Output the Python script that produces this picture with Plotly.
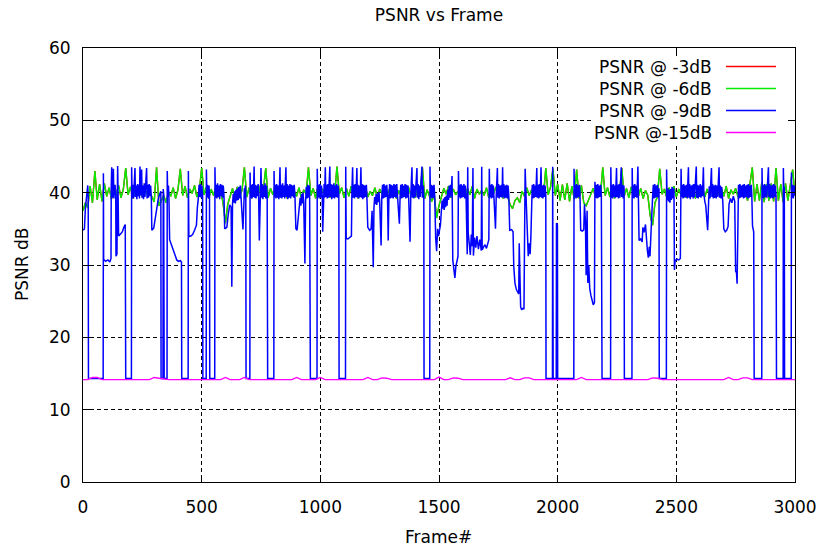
import plotly.graph_objects as go

# ---------------- data ----------------
frames_10 = list(range(0, 3001, 10))          # frame index of the -6dB / -3dB samples
frames_20 = list(range(0, 3001, 20))          # frame index of the -15dB samples

psnr_6db = [
    37.5, 38.6, 37.9, 40.9, 38.6, 43.0, 39.0, 41.2, 38.8, 41.3,
    39.5, 40.7, 39.1, 40.4, 39.8, 41.0, 39.3, 40.5, 43.4, 39.7,
    40.8, 39.2, 40.3, 39.6, 41.1, 39.4, 40.6, 39.8, 40.2, 39.3,
    38.7, 43.5, 38.2, 38.9, 39.6, 38.6, 40.1, 39.5, 40.7, 39.2,
    40.4, 43.3, 39.6, 40.9, 39.3, 40.5, 39.9, 41.0, 39.4, 40.3,
    43.4, 39.7, 40.8, 39.2, 40.5, 39.6, 40.9, 39.4, 40.2, 38.6,
    35.8, 38.4, 39.5, 40.6, 39.3, 40.8, 39.6, 40.3, 43.5, 39.4,
    40.7, 39.2, 40.5, 39.8, 41.0, 39.5, 40.4, 43.4, 39.3, 40.6,
    39.7, 40.9, 39.4, 40.3, 39.6, 40.8, 39.2, 40.5, 39.9, 40.2,
    39.5, 40.7, 39.3, 40.4, 39.8, 43.5, 39.6, 40.6, 39.2, 40.9,
    39.4, 40.5, 39.7, 40.8, 39.3, 40.4, 39.6, 43.6, 39.8, 40.7,
    39.3, 40.6, 39.5, 40.9, 39.7, 40.3, 39.2, 40.5, 39.8, 40.8,
    39.4, 40.2, 39.6, 40.7, 39.3, 40.5, 39.9, 40.9, 39.5, 40.4,
    39.7, 40.8, 39.2, 40.3, 39.6, 40.6, 39.4, 40.9, 39.8, 40.5,
    39.3, 40.7, 39.6, 43.5, 39.2, 40.4, 39.5, 38.8, 39.7, 36.5,
    38.2, 39.4, 40.6, 39.8, 40.9, 39.3, 40.5, 39.7, 40.2, 39.5,
    40.8, 39.4, 40.6, 39.7, 40.9, 39.2, 40.5, 39.8, 40.3, 39.6,
    40.7, 39.3, 40.4, 39.9, 40.8, 39.5, 40.6, 39.2, 40.1, 39.4,
    38.3, 37.8, 38.9, 39.3, 38.6, 40.2, 39.5, 40.7, 39.6, 40.4,
    39.8, 40.9, 39.3, 40.6, 39.5, 43.4, 39.7, 40.8, 43.3, 39.6,
    41.2, 38.9, 41.1, 39.0, 41.3, 38.8, 40.9, 39.1, 43.2, 39.2,
    41.0, 38.6, 38.2, 39.0, 39.8, 40.6, 39.3, 40.8, 39.5, 43.5,
    39.6, 40.7, 39.4, 40.9, 39.2, 40.5, 39.8, 43.4, 39.5, 40.6,
    39.3, 40.8, 39.7, 40.4, 39.5, 40.6, 39.2, 40.3, 39.6, 36.8,
    35.5, 38.6, 39.4, 43.3, 39.8, 40.5, 39.3, 40.7, 39.6, 40.9,
    39.4, 40.5, 39.7, 40.8, 39.3, 40.6, 39.5, 40.9, 39.2, 40.4,
    39.8, 40.7, 39.4, 40.5, 39.6, 40.8, 39.3, 40.3, 39.7, 40.6,
    39.5, 40.9, 39.2, 40.4, 39.8, 40.6, 39.4, 40.7, 39.6, 40.3,
    38.9, 41.3, 43.5, 38.8, 41.2, 38.9, 41.4, 38.7, 41.2, 38.9,
    41.3, 38.8, 43.4, 38.9, 41.2, 38.7, 41.3, 38.9, 41.1, 43.2,
    39.6,
]

# the -3dB curve is completely hidden under the -6dB curve in the reference
psnr_3db = list(psnr_6db)

# (frame, PSNR) pairs of the -9dB curve
psnr_9db = [
    (0, 34.8), (6, 35.0), (10, 37.8), (14, 39.2), (20, 41.0), (22, 39.3), (23, 14.3), (85, 14.3),
    (86, 42.7), (87, 30.8), (95, 30.5), (105, 30.7), (113, 30.4), (118, 30.9), (119, 40.9), (121, 43.5),
    (123, 39.3), (127, 40.9), (128, 43.3), (130, 39.2), (135, 41.1), (138, 39.6), (139, 31.2), (143, 31.5),
    (145, 40.8), (146, 43.7), (148, 39.4), (150, 34.0), (158, 34.3), (166, 34.6), (172, 35.2), (178, 35.6),
    (180, 14.3), (204, 14.3),
    (205, 43.5), (207, 39.3), (210, 41.1), (213, 39.2), (216, 41.3), (219, 43.4), (221, 39.4), (224, 41.0),
    (227, 39.1), (230, 41.2), (233, 39.5), (236, 41.1), (238, 39.2), (240, 43.6), (242, 39.6), (244, 41.2),
    (247, 43.2), (249, 39.3), (252, 41.0), (255, 39.1), (258, 41.3), (261, 39.4), (264, 40.9), (268, 43.4),
    (270, 39.2), (273, 41.1), (276, 39.3), (279, 41.2), (282, 39.5), (285, 41.0), (288, 39.2),
    (290, 34.8), (298, 35.1), (304, 36.5), (310, 37.8), (316, 38.9), (322, 39.7), (328, 40.2), (329, 14.3),
    (337, 14.3), (338, 40.5), (340, 39.8), (342, 14.3), (354, 14.3), (355, 43.0), (357, 39.4), (360, 41.0),
    (362, 39.5), (365, 33.5), (372, 32.8), (380, 32.0), (388, 31.3), (395, 30.7), (402, 30.5), (410, 30.6),
    (415, 30.4), (416, 14.3), (443, 14.3),
    (444, 43.0), (446, 33.9), (454, 34.0), (462, 34.2), (470, 34.8), (478, 35.5), (482, 38.0), (486, 39.2),
    (489, 41.1), (492, 39.4), (495, 41.2), (498, 39.3), (501, 41.0), (504, 39.6), (505, 14.3), (519, 14.3),
    (520, 43.2), (522, 39.4), (525, 41.1), (528, 39.2), (531, 41.0), (533, 39.5), (534, 14.3), (555, 14.3),
    (556, 43.5), (558, 39.3), (561, 41.1), (564, 39.2), (567, 41.3), (570, 39.4), (573, 41.0), (576, 39.1),
    (579, 41.2), (582, 39.5), (585, 41.1), (588, 39.3), (591, 41.0), (594, 39.6), (597, 35.0), (606, 35.2),
    (612, 37.0), (618, 38.3), (624, 38.0), (627, 27.0), (630, 38.4), (633, 39.8), (636, 38.6), (639, 40.2),
    (642, 38.5), (645, 40.4), (648, 38.9), (651, 40.6), (654, 39.0), (657, 40.8), (660, 39.2), (663, 41.0),
    (666, 39.3), (670, 36.2), (674, 34.9), (678, 38.5), (680, 40.6), (682, 39.2), (684, 41.0), (686, 39.5),
    (687, 14.3), (703, 14.3),
    (704, 42.8), (706, 39.3), (709, 41.1), (712, 39.2), (715, 41.2), (718, 39.4), (721, 43.6), (723, 39.3),
    (726, 41.1), (729, 39.2), (732, 41.0), (735, 39.5), (738, 41.2), (740, 39.6), (743, 33.4), (746, 39.9),
    (748, 41.1), (750, 43.4), (752, 39.3), (755, 41.2), (758, 39.1), (761, 41.0), (764, 39.4), (767, 41.3),
    (770, 39.2), (773, 41.0), (776, 39.5), (778, 14.3), (804, 14.3),
    (805, 43.0), (807, 39.4), (810, 41.1), (813, 39.2), (816, 41.2), (819, 39.3), (822, 41.0), (825, 39.1),
    (828, 41.2), (830, 43.5), (832, 39.3), (835, 41.1), (838, 39.2), (841, 41.3), (844, 39.4), (847, 41.0),
    (850, 39.2), (853, 41.1), (855, 43.5), (857, 39.4), (860, 41.2), (863, 39.1), (866, 41.0), (869, 39.3),
    (872, 41.2), (875, 39.2), (878, 41.1), (881, 39.5), (884, 41.0), (887, 39.3), (890, 41.1), (893, 39.6),
    (897, 35.0), (902, 34.8), (906, 36.5), (912, 38.0), (915, 39.3), (918, 38.2), (921, 39.8), (924, 38.5),
    (927, 40.0), (930, 38.6), (935, 30.2), (938, 38.9), (941, 40.8), (944, 39.2), (947, 41.1), (950, 39.3),
    (953, 41.0), (955, 39.5), (958, 14.3), (986, 14.3),
    (987, 43.3), (989, 39.4), (992, 41.1), (995, 39.2), (998, 41.2), (1002, 39.3), (1005, 41.0), (1008, 39.5),
    (1010, 34.6), (1013, 39.4), (1016, 41.2), (1018, 39.3), (1021, 43.5), (1023, 39.4), (1026, 41.1), (1029, 39.2),
    (1032, 41.2), (1035, 39.3), (1038, 41.0), (1040, 43.6), (1042, 39.4), (1045, 41.2), (1048, 39.1), (1051, 41.1),
    (1054, 39.3), (1057, 41.3), (1060, 39.2), (1063, 41.0), (1066, 39.4), (1069, 41.2), (1072, 39.3), (1075, 41.0),
    (1078, 39.6), (1079, 14.3), (1106, 14.3),
    (1107, 43.6), (1109, 33.7), (1116, 33.6), (1124, 33.8), (1131, 34.0), (1133, 40.2), (1136, 43.5), (1138, 39.3),
    (1141, 41.1), (1144, 39.2), (1147, 41.2), (1150, 39.4), (1154, 43.4), (1156, 39.3), (1159, 41.1), (1162, 39.2),
    (1165, 41.0), (1168, 39.4), (1171, 43.5), (1173, 39.3), (1176, 41.2), (1179, 39.1), (1182, 41.1), (1185, 39.3),
    (1188, 41.0), (1191, 39.4), (1194, 41.1), (1196, 39.6), (1200, 35.2), (1208, 34.8), (1214, 35.0), (1218, 37.5),
    (1223, 29.7), (1226, 38.0), (1229, 39.4), (1232, 38.4), (1235, 39.8), (1238, 38.3), (1241, 39.9), (1244, 38.7),
    (1247, 40.1), (1250, 38.8), (1256, 32.7), (1259, 39.4), (1262, 41.1), (1265, 39.2), (1268, 41.2), (1271, 39.3),
    (1274, 41.0), (1277, 39.4), (1280, 41.1), (1283, 39.5), (1286, 33.4), (1289, 39.4), (1292, 41.2), (1295, 39.2),
    (1298, 41.1), (1301, 39.3), (1304, 41.0), (1307, 39.2), (1310, 41.2), (1313, 39.4), (1316, 41.1), (1319, 39.3),
    (1322, 41.2), (1325, 39.6), (1333, 35.7), (1336, 39.4), (1339, 41.1), (1342, 39.2), (1345, 41.2), (1348, 39.3),
    (1351, 41.0), (1354, 39.4), (1357, 41.2), (1360, 39.2), (1363, 41.1), (1366, 39.3), (1369, 41.0), (1372, 39.5),
    (1378, 33.2), (1381, 39.4), (1384, 41.1), (1386, 43.5), (1388, 39.3), (1391, 41.2), (1394, 39.2), (1397, 41.0),
    (1400, 39.4), (1403, 41.1), (1407, 43.4), (1409, 39.3), (1412, 41.2), (1415, 39.1), (1418, 41.0), (1421, 39.4),
    (1424, 41.1), (1428, 43.6), (1430, 39.3), (1433, 41.0), (1436, 39.5), (1437, 14.3), (1461, 14.3),
    (1462, 43.6), (1464, 39.4), (1467, 41.1), (1470, 39.2), (1473, 41.0), (1476, 39.3), (1479, 41.1), (1482, 39.5),
    (1486, 33.7), (1490, 31.9), (1494, 35.0), (1498, 34.0), (1502, 34.8), (1506, 35.5), (1510, 37.5), (1513, 38.9),
    (1516, 37.8), (1519, 39.2), (1522, 37.6), (1525, 39.4), (1528, 38.0), (1531, 39.6), (1534, 38.2), (1537, 40.4),
    (1540, 39.0), (1543, 41.0), (1546, 39.3), (1549, 41.1), (1551, 39.5), (1555, 42.3), (1558, 30.7), (1563, 29.5),
    (1567, 28.2), (1571, 29.8), (1576, 31.0), (1580, 31.2), (1582, 43.0), (1584, 39.4), (1587, 41.1), (1590, 39.2),
    (1593, 41.2), (1596, 39.3), (1599, 41.0), (1602, 39.4), (1605, 41.2), (1608, 39.2), (1611, 41.0), (1614, 39.5),
    (1619, 31.5), (1621, 43.5), (1623, 34.5), (1628, 33.0), (1632, 31.4), (1636, 34.2), (1640, 32.6), (1643, 43.4),
    (1645, 31.3), (1650, 33.8), (1655, 32.4), (1660, 34.0), (1666, 32.2), (1672, 33.5), (1678, 32.0), (1680, 43.6),
    (1682, 32.1), (1688, 32.5), (1694, 32.8), (1700, 32.3), (1706, 32.9), (1710, 33.5), (1712, 43.3), (1714, 39.4),
    (1717, 41.1), (1720, 39.2), (1723, 41.2), (1726, 39.3), (1729, 41.0), (1732, 39.5), (1738, 35.0), (1741, 39.4),
    (1744, 41.1), (1746, 43.4), (1748, 39.3), (1751, 41.2), (1754, 39.2), (1757, 41.0), (1760, 39.4), (1763, 41.1),
    (1766, 39.3), (1768, 43.5), (1770, 39.4), (1773, 41.2), (1776, 39.2), (1779, 41.0), (1782, 39.3), (1785, 41.1),
    (1788, 39.2), (1791, 41.0), (1794, 39.6), (1798, 34.8), (1806, 34.9), (1812, 34.6), (1815, 29.8), (1820, 27.5),
    (1826, 26.6), (1832, 26.2), (1836, 26.0), (1838, 33.0), (1841, 26.5), (1844, 24.2), (1848, 23.8), (1853, 24.0),
    (1858, 23.9), (1860, 39.8), (1863, 43.3), (1866, 40.2), (1870, 36.0), (1872, 32.6), (1876, 31.2), (1880, 33.0),
    (1884, 31.5), (1887, 33.8), (1890, 39.4), (1893, 41.1), (1896, 39.2), (1899, 41.2), (1902, 39.3), (1905, 41.0),
    (1908, 39.4), (1912, 43.4), (1914, 39.3), (1917, 41.1), (1920, 39.2), (1923, 41.2), (1926, 39.4), (1930, 43.5),
    (1932, 39.3), (1935, 41.0), (1938, 39.2), (1941, 41.1), (1944, 39.4), (1947, 41.0), (1950, 39.6), (1951, 14.3),
    (1978, 14.3), (1979, 43.6), (1981, 14.3), (1994, 14.3), (1995, 35.8), (1999, 35.5), (2000, 14.3), (2068, 14.3),
    (2069, 43.3), (2071, 39.4), (2074, 41.1), (2077, 39.2), (2080, 41.2), (2083, 39.3), (2086, 41.0), (2089, 39.4),
    (2092, 41.1), (2094, 39.6), (2097, 34.8), (2104, 34.7), (2110, 34.9), (2113, 38.4), (2117, 36.0), (2120, 28.6),
    (2124, 37.5), (2127, 27.5), (2131, 30.0), (2135, 26.8), (2140, 25.8), (2145, 25.2), (2150, 24.5), (2155, 24.8),
    (2157, 41.5), (2160, 39.3), (2163, 41.1), (2166, 39.2), (2169, 41.2), (2172, 39.3), (2175, 41.0), (2178, 39.4),
    (2181, 41.1), (2184, 39.6), (2187, 14.3), (2223, 14.3),
    (2224, 43.5), (2226, 39.3), (2229, 41.1), (2232, 39.2), (2235, 41.2), (2238, 39.4), (2241, 41.0), (2244, 39.3),
    (2248, 43.4), (2250, 39.4), (2253, 41.1), (2256, 39.2), (2259, 41.2), (2262, 39.3), (2265, 41.0), (2268, 43.5),
    (2270, 39.4), (2273, 41.1), (2276, 39.2), (2279, 41.0), (2280, 39.6), (2281, 14.3), (2313, 14.3),
    (2314, 43.4), (2316, 39.3), (2319, 41.1), (2322, 39.2), (2325, 41.2), (2328, 39.4), (2331, 41.0), (2334, 39.3),
    (2338, 43.6), (2340, 39.6), (2343, 33.4), (2350, 33.6), (2356, 33.2), (2359, 35.2), (2364, 34.5), (2370, 35.6),
    (2374, 33.0), (2378, 32.0), (2382, 31.0), (2386, 32.5), (2389, 31.2), (2392, 34.8), (2396, 36.5), (2400, 39.4),
    (2403, 41.1), (2406, 39.2), (2409, 41.2), (2412, 39.3), (2415, 41.0), (2418, 39.4), (2421, 41.1), (2424, 39.3),
    (2427, 40.6), (2428, 14.3), (2458, 14.3),
    (2459, 43.2), (2461, 39.0), (2464, 40.6), (2467, 38.8), (2470, 40.4), (2473, 38.6), (2476, 40.5), (2479, 39.0),
    (2482, 40.8), (2486, 39.2), (2490, 40.6), (2492, 29.3), (2495, 30.6), (2503, 30.8), (2510, 30.7), (2517, 30.9),
    (2520, 43.3), (2522, 39.4), (2525, 41.1), (2528, 39.2), (2531, 41.2), (2534, 39.3), (2537, 41.0), (2540, 39.4),
    (2543, 41.1), (2546, 39.2), (2551, 43.5), (2553, 39.3), (2556, 41.2), (2559, 39.1), (2562, 41.0), (2565, 39.4),
    (2568, 41.1), (2571, 39.2), (2574, 41.2), (2577, 39.4), (2584, 43.6), (2586, 39.3), (2589, 41.1), (2592, 39.2),
    (2595, 41.0), (2598, 39.4), (2601, 41.2), (2604, 39.3), (2607, 41.0), (2610, 39.5), (2614, 43.5), (2616, 39.8),
    (2620, 38.8), (2624, 38.2), (2628, 36.5), (2632, 34.8), (2636, 38.7), (2639, 40.9), (2642, 39.2), (2645, 41.1),
    (2648, 43.4), (2650, 39.4), (2653, 41.2), (2656, 39.2), (2659, 41.0), (2662, 39.3), (2665, 41.1), (2668, 39.2),
    (2671, 41.0), (2674, 39.4), (2677, 41.2), (2680, 43.5), (2682, 39.3), (2685, 41.0), (2688, 39.2), (2691, 40.8),
    (2696, 38.6), (2700, 35.0), (2706, 34.6), (2712, 34.8), (2718, 35.3), (2722, 38.4), (2728, 39.2), (2734, 38.6),
    (2740, 39.5), (2746, 38.8), (2750, 29.0), (2753, 29.2), (2756, 27.4), (2759, 39.6), (2762, 41.1), (2765, 39.2),
    (2768, 41.2), (2771, 39.3), (2774, 41.0), (2777, 39.4), (2780, 41.1), (2783, 39.2), (2786, 41.2), (2789, 39.3),
    (2792, 41.0), (2795, 39.4), (2798, 41.1), (2801, 39.2), (2804, 41.2), (2807, 39.3), (2810, 41.0), (2813, 39.4),
    (2816, 41.1), (2818, 39.6), (2821, 35.4), (2826, 34.6), (2828, 14.3), (2860, 14.3),
    (2861, 43.4), (2863, 39.3), (2866, 41.1), (2869, 39.2), (2872, 41.2), (2875, 39.4), (2878, 41.0), (2881, 39.3),
    (2884, 41.1), (2888, 43.5), (2890, 39.4), (2893, 41.2), (2896, 39.2), (2899, 41.0), (2902, 39.3), (2905, 41.1),
    (2908, 39.2), (2911, 41.2), (2914, 39.4), (2917, 41.0), (2920, 39.6), (2922, 14.3), (2950, 14.3), (2951, 43.4),
    (2953, 39.4), (2955, 40.8), (2956, 14.3), (2984, 14.3), (2985, 42.8), (2987, 39.3), (2990, 41.1), (2993, 39.2),
    (2996, 41.0), (3000, 39.6),
]

psnr_15db = [
    14.15, 14.15, 14.45, 14.45, 14.15, 14.15, 14.15, 14.15, 14.15, 14.15,
    14.15, 14.15, 14.15, 14.15, 14.15, 14.45, 14.35, 14.15, 14.15, 14.15,
    14.15, 14.15, 14.15, 14.15, 14.15, 14.15, 14.15, 14.15, 14.15, 14.15,
    14.45, 14.15, 14.15, 14.15, 14.45, 14.15, 14.15, 14.15, 14.15, 14.15,
    14.15, 14.15, 14.15, 14.15, 14.15, 14.45, 14.15, 14.15, 14.15, 14.15,
    14.45, 14.15, 14.15, 14.15, 14.15, 14.15, 14.15, 14.15, 14.15, 14.15,
    14.45, 14.15, 14.15, 14.40, 14.35, 14.15, 14.15, 14.15, 14.15, 14.15,
    14.15, 14.15, 14.15, 14.15, 14.15, 14.50, 14.15, 14.15, 14.40, 14.35,
    14.15, 14.15, 14.15, 14.15, 14.15, 14.15, 14.15, 14.15, 14.15, 14.15,
    14.40, 14.15, 14.15, 14.40, 14.40, 14.15, 14.15, 14.15, 14.15, 14.15,
    14.15, 14.15, 14.15, 14.15, 14.15, 14.45, 14.15, 14.15, 14.15, 14.15,
    14.15, 14.15, 14.15, 14.15, 14.15, 14.15, 14.15, 14.15, 14.15, 14.15,
    14.40, 14.35, 14.15, 14.15, 14.15, 14.15, 14.15, 14.15, 14.15, 14.15,
    14.15, 14.15, 14.15, 14.15, 14.15, 14.15, 14.45, 14.15, 14.15, 14.40,
    14.40, 14.15, 14.15, 14.15, 14.15, 14.15, 14.15, 14.15, 14.15, 14.15,
    14.15,
]

series_names = ["PSNR @ -3dB", "PSNR @ -6dB", "PSNR @ -9dB", "PSNR @-15dB"]
series_colors = ["#ff0000", "#00ee00", "#0000ff", "#ff00ff"]
x_ticks = [0, 500, 1000, 1500, 2000, 2500, 3000]
y_ticks = [0, 10, 20, 30, 40, 50, 60]

# ---------------- figure ----------------
W, H = 819, 549
ML, MR, MT, MB = 83, 24, 48, 67
PW, PH = W - ML - MR, H - MT - MB
FONT = "DejaVu Sans"


def xp(px):
    return (px - ML) / PW


def yp(py):
    return (H - MB - py) / PH


blue_f = [p[0] for p in psnr_9db]
blue_v = [p[1] for p in psnr_9db]

fig = go.Figure()
traces = [
    (frames_10, psnr_3db, 1.4),
    (frames_10, psnr_6db, 1.4),
    (blue_f, blue_v, 1.5),
    (frames_20, psnr_15db, 1.4),
]
for (xs, ys, lw), name, col in zip(traces, series_names, series_colors):
    fig.add_trace(go.Scatter(x=xs, y=ys, mode="lines", name=name,
                             line=dict(color=col, width=lw), showlegend=False))

axis_common = dict(
    showgrid=True, gridcolor="#000000", gridwidth=1, griddash="4px,3px",
    showline=True, linecolor="#000000", linewidth=1, mirror="allticks",
    ticks="inside", ticklen=7, tickcolor="#000000", tickwidth=1,
    zeroline=False, automargin=False,
    tickfont=dict(family=FONT, size=17, color="#000000"),
)
fig.update_xaxes(range=[0, 3000], tickvals=x_ticks, ticklabelstandoff=10, **axis_common)
fig.update_yaxes(range=[0, 60], tickvals=y_ticks, ticklabelstandoff=8, **axis_common)

shapes = [
    # opaque key box (hides the grid behind the key, like gnuplot)
    dict(type="rect", xref="paper", yref="paper", x0=xp(592), x1=xp(787), y0=yp(143), y1=yp(56),
         fillcolor="white", line=dict(width=0), layer="above"),
]
annotations = []
rows = [66.5, 88.5, 110.5, 132.5]
for name, col, ry in zip(series_names, series_colors, rows):
    shapes.append(dict(type="line", xref="paper", yref="paper", x0=xp(726), x1=xp(776),
                       y0=yp(ry), y1=yp(ry), line=dict(color=col, width=1.4), layer="above"))
    annotations.append(dict(text=name, xref="paper", yref="paper", x=xp(714), y=yp(ry),
                            xanchor="right", yanchor="middle", showarrow=False,
                            font=dict(family=FONT, size=17, color="#000000")))

annotations.append(dict(text="Frame#", xref="paper", yref="paper", x=xp(438), y=yp(537),
                        xanchor="center", yanchor="middle", showarrow=False,
                        font=dict(family=FONT, size=17, color="#000000")))
annotations.append(dict(text="PSNR dB", xref="paper", yref="paper", x=xp(22), y=yp(265),
                        xanchor="center", yanchor="middle", showarrow=False, textangle=-90,
                        font=dict(family=FONT, size=17, color="#000000")))

fig.update_layout(
    template="none",
    width=W, height=H, autosize=False,
    margin=dict(l=ML, r=MR, t=MT, b=MB, pad=0),
    paper_bgcolor="white", plot_bgcolor="white",
    showlegend=False,
    title=dict(text="PSNR vs Frame", x=xp(439), xanchor="center", xref="paper",
               y=1 - 15 / H, yref="container", yanchor="middle",
               font=dict(family=FONT, size=17, color="#000000")),
    shapes=shapes, annotations=annotations,
    font=dict(family=FONT, size=17, color="#000000"),
)

fig.write_html("out.html", config={"displayModeBar": False})
